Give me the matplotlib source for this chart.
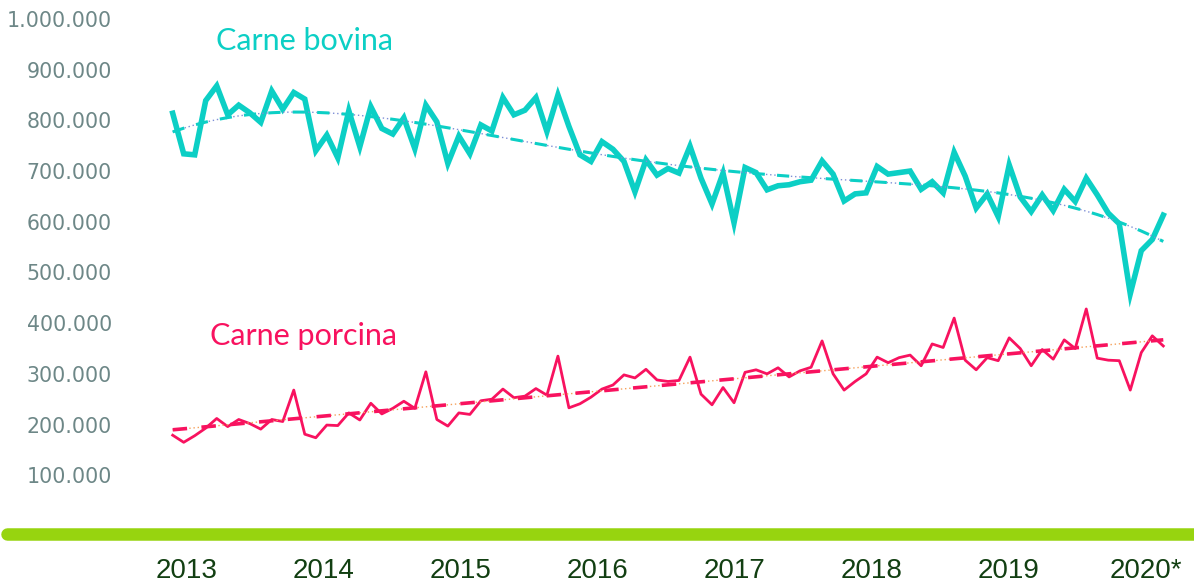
import numpy as np
import matplotlib
matplotlib.use("Agg")
import matplotlib.pyplot as plt
from matplotlib.transforms import blended_transform_factory

# Monthly volumes (thousands), Jan 2013 onwards
bovina = [818, 738, 736, 843, 872, 815, 834, 819, 800, 862, 826, 859, 846, 744, 775, 730, 823, 752, 831, 788, 777, 809, 748, 834, 801, 719,
          773, 738, 795, 783, 849, 815, 824, 849, 782, 854, 792, 736, 723, 762, 747, 723, 663, 726, 696, 709, 700, 753, 690, 639, 700, 602,
          711, 701, 667, 675, 677, 683, 686, 724, 698, 645, 659, 661, 713, 698, 701, 704, 668, 683, 661, 741, 694, 631, 659, 614, 716,
          653, 624, 657, 626, 668, 644, 690, 657, 621, 600, 462, 547, 569, 617]
porcina = [183, 169, 182, 197, 216, 200, 214, 206, 195, 214, 210, 272, 185, 178, 203, 202, 227, 213, 246, 225, 236, 250, 236, 308, 214, 201,
           227, 224, 251, 254, 274, 257, 260, 275, 262, 339, 237, 245, 258, 274, 282, 302, 296, 313, 292, 289, 291, 337, 264, 243, 277, 247,
           307, 312, 304, 316, 298, 310, 317, 369, 304, 272, 289, 304, 337, 326, 336, 341, 320, 363, 356, 414, 331, 312, 336, 330, 375,
           354, 320, 352, 333, 371, 354, 432, 335, 331, 330, 272, 346, 379, 359]
years = ["2013", "2014", "2015", "2016", "2017", "2018", "2019", "2020*"]
yticks = [100000, 200000, 300000, 400000, 500000, 600000, 700000, 800000, 900000, 1000000]

TEAL = "#0ccfc5"
PINK = "#f8125f"
GREEN = "#97d40f"

bov = np.array(bovina) * 1000.0
por = np.array(porcina) * 1000.0
x = np.arange(len(bov))

# trendlines: polynomial (order 4) for beef, linear for pork
tb = np.polyval(np.polyfit(x, bov, 4), x)
tp = np.polyval(np.polyfit(x, por, 1), x)

fig = plt.figure(figsize=(11.94, 5.83), dpi=100)
ax = fig.add_axes([0, 0, 1, 1])
ax.set_xlim(-15.69, 92.79)
ax.set_ylim(-108500, 1041400)
ax.axis("off")

ax.plot(x, bov, color=TEAL, lw=4.0, solid_joinstyle="miter", zorder=3)
ax.plot(x, tb, color="#7f8fd6", lw=1.0, ls=(0, (1, 2)), zorder=4)
ax.plot(x, tb, color=TEAL, lw=2.2, ls=(0, (4, 4)), zorder=4)

ax.plot(x, por, color=PINK, lw=2.0, zorder=3)
ax.plot(x, tp, color="#f5a05a", lw=1.0, ls=(0, (1, 2)), zorder=4)
ax.plot(x, tp, color=PINK, lw=2.6, ls=(0, (4, 4)), zorder=4)

# thick green base line
ax.plot([-15.05, 92.79], [-12800, -12800], color=GREEN, lw=9, solid_capstyle="round", zorder=2)

tr = blended_transform_factory(ax.transAxes, ax.transData)
for v in yticks:
    lab = "{:,}".format(v).replace(",", ".")
    ax.text(0.0938, v, lab, transform=tr, ha="right", va="center",
            fontsize=14.8, color="#6d8787", family="DejaVu Sans")

for k, y in enumerate(years):
    ax.text(1.26 + 12.45 * k, -84000, y, ha="center", va="center",
            fontsize=20, color="#123f12", family="Liberation Sans")

ax.text(3.9, 942000, "Carne bovina", ha="left", va="baseline", fontsize=22, color=TEAL, family="Lato")
ax.text(3.4, 360000, "Carne porcina", ha="left", va="baseline", fontsize=22, color=PINK, family="Lato")

fig.savefig("out.png", dpi=100)
